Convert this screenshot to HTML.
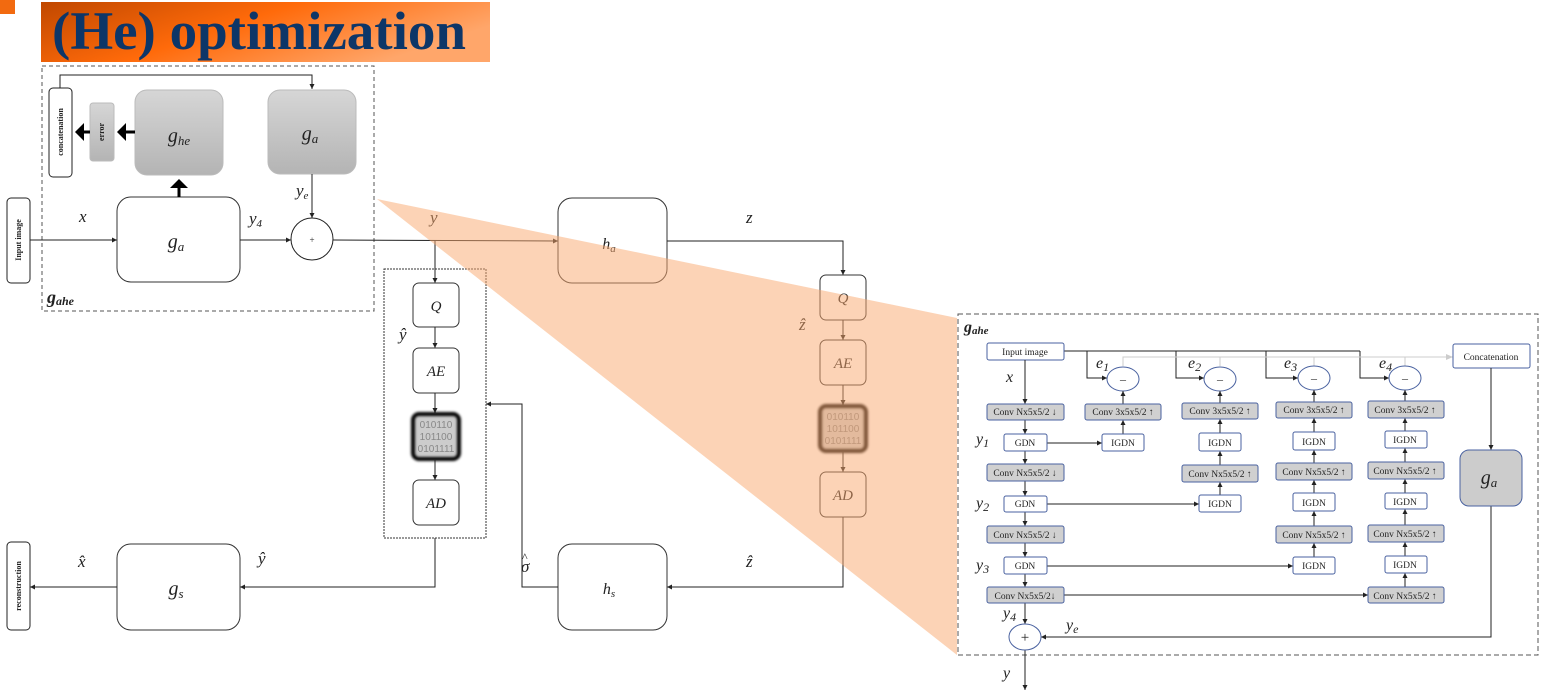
<!DOCTYPE html>
<html><head><meta charset="utf-8"><style>
html,body{margin:0;padding:0;background:#fff;width:1548px;height:697px;overflow:hidden}
svg{display:block}
.m{font-family:"Liberation Serif",serif;font-style:italic;fill:#222}
.s{font-family:"Liberation Serif",serif;fill:#222}
.bt{font-family:"Liberation Serif",serif;font-size:9.5px;fill:#222;text-anchor:middle}
</style></head><body>
<svg width="1548" height="697" viewBox="0 0 1548 697" xmlns="http://www.w3.org/2000/svg">
<defs>
<marker id="b" markerWidth="6" markerHeight="6" refX="5" refY="3" orient="auto" markerUnits="userSpaceOnUse"><path d="M0,0.5 L5,3 L0,5.5 z" fill="#222"/></marker>
<marker id="g" markerWidth="8" markerHeight="8" refX="7" refY="4" orient="auto" markerUnits="userSpaceOnUse"><path d="M0,1 L7,4 L0,7 z" fill="#ccc"/></marker>
<marker id="t" markerWidth="6" markerHeight="6" refX="2" refY="3" orient="auto" markerUnits="strokeWidth"><path d="M0,0 L3,3 L0,6 z" fill="#000"/></marker>
<linearGradient id="ban" x1="0" x2="1" y1="0" y2="0.4"><stop offset="0" stop-color="#c04800"/><stop offset="0.5" stop-color="#ff6a0a"/><stop offset="1" stop-color="#ffa66a"/></linearGradient>
<linearGradient id="gr" x1="0" x2="0" y1="0" y2="1"><stop offset="0" stop-color="#d6d6d6"/><stop offset="1" stop-color="#b4b4b4"/></linearGradient>
</defs>
<rect x="0" y="0" width="15" height="14" fill="#f26a10"/>
<rect x="41" y="2" width="449" height="60" fill="url(#ban)"/>
<text x="52" y="49" font-family="Liberation Serif,serif" font-weight="bold" font-size="54" fill="#0d3668" textLength="414" lengthAdjust="spacingAndGlyphs">(He) optimization</text>

<rect x="42" y="66" width="332" height="245" fill="none" stroke="#555" stroke-dasharray="4,3"/>
<rect x="49" y="88" width="23" height="89" rx="4" fill="#fff" stroke="#222"/>
<text transform="translate(63,132) rotate(-90)" class="s" font-size="8" font-weight="bold" text-anchor="middle">concatenation</text>
<rect x="90" y="103" width="24" height="58" rx="3" fill="url(#gr)" stroke="#bbb"/>
<text transform="translate(104,132) rotate(-90)" class="s" font-size="8" font-weight="bold" text-anchor="middle">error</text>
<rect x="135" y="90" width="88" height="85" rx="12" fill="url(#gr)" stroke="#bbb"/>
<text x="179" y="142" class="m" font-size="20" text-anchor="middle">g<tspan font-size="13" dy="3">he</tspan></text>
<rect x="268" y="90" width="88" height="84" rx="12" fill="url(#gr)" stroke="#bbb"/>
<text x="310" y="140" class="m" font-size="20" text-anchor="middle">g<tspan font-size="13" dy="3">a</tspan></text>
<polyline points="60,88 60,75 312,75 312,89" fill="none" stroke="#222" marker-end="url(#b)"/>
<line x1="135" y1="132" x2="120" y2="132" stroke="#000" stroke-width="3" marker-end="url(#t)"/>
<line x1="90" y1="132" x2="78" y2="132" stroke="#000" stroke-width="3" marker-end="url(#t)"/>
<rect x="117" y="197" width="123" height="85" rx="14" fill="#fff" stroke="#333"/>
<text x="176" y="248" class="m" font-size="20" text-anchor="middle">g<tspan font-size="13" dy="3">a</tspan></text>
<line x1="179" y1="197" x2="179" y2="182" stroke="#000" stroke-width="3" marker-end="url(#t)"/>
<rect x="7" y="198" width="23" height="85" rx="4" fill="#fff" stroke="#222"/>
<text transform="translate(21,240) rotate(-90)" class="s" font-size="8" font-weight="bold" text-anchor="middle">Input image</text>
<line x1="30" y1="240" x2="117" y2="240" stroke="#222" marker-end="url(#b)"/>
<text x="79" y="222" class="m" font-size="17">x</text>
<circle cx="312" cy="239" r="21" fill="#fff" stroke="#222"/>
<text x="312" y="243" class="s" font-size="9" text-anchor="middle">+</text>
<line x1="312" y1="174" x2="312" y2="218" stroke="#222" marker-end="url(#b)"/>
<text x="296" y="196" class="m" font-size="17">y<tspan font-size="11" dy="3">e</tspan></text>
<line x1="240" y1="240" x2="291" y2="240" stroke="#222" marker-end="url(#b)"/>
<text x="249" y="224" class="m" font-size="17">y<tspan font-size="11" dy="3">4</tspan></text>
<text x="47" y="303" class="m" font-size="18" font-weight="bold">g<tspan font-size="12" dy="2">ahe</tspan></text>

<line x1="333" y1="240" x2="558" y2="241" stroke="#222" marker-end="url(#b)"/>
<text x="430" y="223" class="m" font-size="17">y</text>
<line x1="435" y1="240" x2="435" y2="283" stroke="#222" marker-end="url(#b)"/>
<rect x="384" y="269" width="102" height="269" fill="none" stroke="#333" stroke-dasharray="2,1"/>
<rect x="413" y="283" width="46" height="44" rx="6" fill="#fff" stroke="#333"/>
<text x="436" y="311" class="m" font-size="15" text-anchor="middle">Q</text>
<text x="399" y="340" class="m" font-size="17">ŷ</text>
<line x1="435" y1="327" x2="435" y2="348" stroke="#222" marker-end="url(#b)"/>
<rect x="413" y="348" width="46" height="45" rx="6" fill="#fff" stroke="#333"/>
<text x="436" y="376" class="m" font-size="15" text-anchor="middle">AE</text>
<line x1="435" y1="393" x2="435" y2="413" stroke="#222" marker-end="url(#b)"/>
<rect x="413" y="414" width="46" height="45" rx="6" fill="#ccc" stroke="#000" stroke-width="4" style="filter:blur(1.2px)"/>
<text x="436" y="428" font-family="Liberation Sans,sans-serif" font-size="10" fill="#888" text-anchor="middle">010110</text>
<text x="436" y="440" font-family="Liberation Sans,sans-serif" font-size="10" fill="#888" text-anchor="middle">101100</text>
<text x="436" y="452" font-family="Liberation Sans,sans-serif" font-size="10" fill="#888" text-anchor="middle">0101111</text>
<line x1="435" y1="460" x2="435" y2="480" stroke="#222" marker-end="url(#b)"/>
<rect x="413" y="480" width="46" height="45" rx="6" fill="#fff" stroke="#333"/>
<text x="436" y="508" class="m" font-size="15" text-anchor="middle">AD</text>

<rect x="558" y="198" width="109" height="85" rx="14" fill="#fff" stroke="#333"/>
<text x="609" y="249" class="m" font-size="16" text-anchor="middle">h<tspan font-size="11" dy="3">a</tspan></text>
<polyline points="667,241 843,241 843,275" fill="none" stroke="#222" marker-end="url(#b)"/>
<text x="746" y="223" class="m" font-size="17">z</text>
<rect x="820" y="275" width="46" height="45" rx="6" fill="#fff" stroke="#333"/>
<text x="843" y="303" class="m" font-size="15" text-anchor="middle">Q</text>
<text x="799" y="330" class="m" font-size="17">ẑ</text>
<line x1="843" y1="320" x2="843" y2="340" stroke="#222" marker-end="url(#b)"/>
<rect x="820" y="340" width="46" height="45" rx="6" fill="#fff" stroke="#333"/>
<text x="843" y="368" class="m" font-size="15" text-anchor="middle">AE</text>
<line x1="843" y1="385" x2="843" y2="405" stroke="#222" marker-end="url(#b)"/>
<rect x="820" y="406" width="46" height="45" rx="6" fill="#ccc" stroke="#000" stroke-width="4" style="filter:blur(1.2px)"/>
<text x="843" y="420" font-family="Liberation Sans,sans-serif" font-size="10" fill="#888" text-anchor="middle">010110</text>
<text x="843" y="432" font-family="Liberation Sans,sans-serif" font-size="10" fill="#888" text-anchor="middle">101100</text>
<text x="843" y="444" font-family="Liberation Sans,sans-serif" font-size="10" fill="#888" text-anchor="middle">0101111</text>
<line x1="843" y1="452" x2="843" y2="472" stroke="#222" marker-end="url(#b)"/>
<rect x="820" y="472" width="46" height="45" rx="6" fill="#fff" stroke="#333"/>
<text x="843" y="500" class="m" font-size="15" text-anchor="middle">AD</text>
<polyline points="843,517 843,587 667,587" fill="none" stroke="#222" marker-end="url(#b)"/>
<text x="746" y="567" class="m" font-size="17">ẑ</text>

<rect x="558" y="544" width="109" height="86" rx="14" fill="#fff" stroke="#333"/>
<text x="609" y="594" class="m" font-size="16" text-anchor="middle">h<tspan font-size="11" dy="3">s</tspan></text>
<polyline points="558,587 522,587 522,404 486,404" fill="none" stroke="#222" marker-end="url(#b)"/>
<text x="521" y="572" class="m" font-size="17">σ</text>
<text x="522" y="561" class="s" font-size="12">^</text>
<polyline points="435,538 435,587 240,587" fill="none" stroke="#222" marker-end="url(#b)"/>
<text x="258" y="564" class="m" font-size="17">ŷ</text>
<rect x="117" y="544" width="123" height="86" rx="14" fill="#fff" stroke="#333"/>
<text x="176" y="595" class="m" font-size="20" text-anchor="middle">g<tspan font-size="13" dy="3">s</tspan></text>
<line x1="117" y1="587" x2="30" y2="587" stroke="#222" marker-end="url(#b)"/>
<text x="78" y="567" class="m" font-size="17">x̂</text>
<rect x="7" y="542" width="23" height="88" rx="4" fill="#fff" stroke="#222"/>
<text transform="translate(21,586) rotate(-90)" class="s" font-size="8" font-weight="bold" text-anchor="middle">reconstruction</text>

<polygon points="377,199 957,318 957,655" fill="#f9a86e" opacity="0.5"/>

<!-- right panel -->
<rect x="958" y="314" width="580" height="341" fill="#fff" stroke="#555" stroke-dasharray="5,3"/>
<text x="964" y="332" class="m" font-size="16" font-weight="bold">g<tspan font-size="11" dy="2">ahe</tspan></text>
<g stroke="#222" fill="none">
<polyline points="1064,351 1360,351"/>
<polyline points="1087,351 1087,378 1107,378" marker-end="url(#b)"/>
<polyline points="1176,351 1176,378 1204,378" marker-end="url(#b)"/>
<polyline points="1266,351 1266,378 1298,378" marker-end="url(#b)"/>
<polyline points="1360,351 1360,378 1389,378" marker-end="url(#b)"/>
</g>
<polyline points="1123,366 1123,357 1453,357" fill="none" stroke="#ccc" marker-end="url(#g)"/>
<g stroke="#ccc"><line x1="1220" y1="357" x2="1220" y2="366"/><line x1="1314" y1="357" x2="1314" y2="366"/><line x1="1405" y1="357" x2="1405" y2="366"/></g>
<rect x="987" y="343" width="77" height="17" rx="2" fill="#fff" stroke="#4a62a0"/>
<text x="1025" y="355" class="bt">Input image</text>
<rect x="1453" y="344" width="77" height="24" rx="2" fill="#fff" stroke="#4a62a0"/>
<text x="1491" y="360" class="bt">Concatenation</text>
<g class="m" font-size="16">
<text x="1096" y="368">e<tspan font-size="12" dy="3">1</tspan></text>
<text x="1188" y="368">e<tspan font-size="12" dy="3">2</tspan></text>
<text x="1284" y="368">e<tspan font-size="12" dy="3">3</tspan></text>
<text x="1379" y="368">e<tspan font-size="12" dy="3">4</tspan></text>
<text x="1006" y="382">x</text>
<text x="976" y="444">y<tspan font-size="12" dy="3">1</tspan></text>
<text x="976" y="508">y<tspan font-size="12" dy="3">2</tspan></text>
<text x="976" y="570">y<tspan font-size="12" dy="3">3</tspan></text>
<text x="1003" y="618">y<tspan font-size="12" dy="3">4</tspan></text>
<text x="1066" y="630">y<tspan font-size="12" dy="3">e</tspan></text>
<text x="1003" y="678">y</text>
</g>
<g fill="#fff" stroke="#4a62a0">
<ellipse cx="1123" cy="379" rx="16" ry="12"/><ellipse cx="1220" cy="379" rx="16" ry="12"/><ellipse cx="1314" cy="378" rx="16" ry="12"/><ellipse cx="1405" cy="378" rx="16" ry="12"/>
</g>
<g class="s" font-size="12" text-anchor="middle"><text x="1123" y="383">–</text><text x="1220" y="383">–</text><text x="1314" y="382">–</text><text x="1405" y="382">–</text></g>
<g stroke="#222" fill="none">
<line x1="1025" y1="360" x2="1025" y2="404" marker-end="url(#b)"/>
<line x1="1025" y1="420" x2="1025" y2="434" marker-end="url(#b)"/>
<line x1="1025" y1="451" x2="1025" y2="464" marker-end="url(#b)"/>
<line x1="1025" y1="481" x2="1025" y2="496" marker-end="url(#b)"/>
<line x1="1025" y1="512" x2="1025" y2="526" marker-end="url(#b)"/>
<line x1="1025" y1="543" x2="1025" y2="557" marker-end="url(#b)"/>
<line x1="1025" y1="574" x2="1025" y2="587" marker-end="url(#b)"/>
<line x1="1025" y1="603" x2="1025" y2="624" marker-end="url(#b)"/>
<line x1="1025" y1="650" x2="1025" y2="690" marker-end="url(#b)"/>
<line x1="1047" y1="443" x2="1102" y2="443" marker-end="url(#b)"/>
<line x1="1047" y1="504" x2="1199" y2="504" marker-end="url(#b)"/>
<line x1="1047" y1="566" x2="1293" y2="566" marker-end="url(#b)"/>
<line x1="1064" y1="595" x2="1368" y2="595" marker-end="url(#b)"/>
<polyline points="1491,368 1491,450" marker-end="url(#b)"/>
<polyline points="1491,506 1491,637 1041,637" marker-end="url(#b)"/>
<line x1="1123" y1="434" x2="1123" y2="420" marker-end="url(#b)"/>
<line x1="1123" y1="404" x2="1123" y2="391" marker-end="url(#b)"/>
<line x1="1220" y1="495" x2="1220" y2="482" marker-end="url(#b)"/>
<line x1="1220" y1="465" x2="1220" y2="451" marker-end="url(#b)"/>
<line x1="1220" y1="433" x2="1220" y2="419" marker-end="url(#b)"/>
<line x1="1220" y1="403" x2="1220" y2="391" marker-end="url(#b)"/>
<line x1="1314" y1="557" x2="1314" y2="543" marker-end="url(#b)"/>
<line x1="1314" y1="526" x2="1314" y2="511" marker-end="url(#b)"/>
<line x1="1314" y1="493" x2="1314" y2="480" marker-end="url(#b)"/>
<line x1="1314" y1="463" x2="1314" y2="450" marker-end="url(#b)"/>
<line x1="1314" y1="432" x2="1314" y2="418" marker-end="url(#b)"/>
<line x1="1314" y1="402" x2="1314" y2="390" marker-end="url(#b)"/>
<line x1="1405" y1="587" x2="1405" y2="573" marker-end="url(#b)"/>
<line x1="1405" y1="556" x2="1405" y2="542" marker-end="url(#b)"/>
<line x1="1405" y1="525" x2="1405" y2="509" marker-end="url(#b)"/>
<line x1="1405" y1="493" x2="1405" y2="479" marker-end="url(#b)"/>
<line x1="1405" y1="462" x2="1405" y2="448" marker-end="url(#b)"/>
<line x1="1405" y1="431" x2="1405" y2="418" marker-end="url(#b)"/>
<line x1="1405" y1="401" x2="1405" y2="390" marker-end="url(#b)"/>
</g>
<ellipse cx="1025" cy="637" rx="16" ry="13" fill="#fff" stroke="#4a62a0"/>
<text x="1025" y="642" class="s" font-size="15" text-anchor="middle">+</text>
<rect x="1460" y="450" width="62" height="56" rx="9" fill="#ccc" stroke="#4a62a0"/>
<text x="1489" y="484" class="m" font-size="20" text-anchor="middle">g<tspan font-size="13" dy="3">a</tspan></text>
<g fill="#d0d0d0" stroke="#4a62a0">
<rect x="987" y="404" width="77" height="16" rx="2"/><rect x="987" y="464" width="77" height="17" rx="2"/><rect x="987" y="526" width="77" height="17" rx="2"/><rect x="987" y="587" width="77" height="16" rx="2"/>
<rect x="1085" y="404" width="76" height="16" rx="2"/>
<rect x="1182" y="403" width="76" height="16" rx="2"/><rect x="1182" y="465" width="76" height="17" rx="2"/>
<rect x="1276" y="402" width="76" height="16" rx="2"/><rect x="1276" y="463" width="76" height="17" rx="2"/><rect x="1276" y="526" width="76" height="17" rx="2"/>
<rect x="1368" y="401" width="76" height="17" rx="2"/><rect x="1368" y="462" width="76" height="17" rx="2"/><rect x="1368" y="525" width="76" height="17" rx="2"/><rect x="1368" y="587" width="76" height="16" rx="2"/>
</g>
<g fill="#fff" stroke="#4a62a0">
<rect x="1004" y="434" width="43" height="17" rx="2"/><rect x="1004" y="496" width="43" height="16" rx="2"/><rect x="1004" y="557" width="43" height="17" rx="2"/>
<rect x="1102" y="434" width="42" height="17" rx="2"/>
<rect x="1199" y="433" width="42" height="18" rx="2"/><rect x="1199" y="495" width="42" height="17" rx="2"/>
<rect x="1293" y="432" width="42" height="18" rx="2"/><rect x="1293" y="493" width="42" height="18" rx="2"/><rect x="1293" y="557" width="42" height="17" rx="2"/>
<rect x="1385" y="431" width="42" height="17" rx="2"/><rect x="1385" y="493" width="42" height="16" rx="2"/><rect x="1385" y="556" width="42" height="17" rx="2"/>
</g>
<g class="bt">
<text x="1025" y="415">Conv Nx5x5/2 ↓</text><text x="1025" y="476">Conv Nx5x5/2 ↓</text><text x="1025" y="538">Conv Nx5x5/2 ↓</text><text x="1025" y="599">Conv Nx5x5/2↓</text>
<text x="1123" y="415">Conv 3x5x5/2 ↑</text>
<text x="1220" y="414">Conv 3x5x5/2 ↑</text><text x="1220" y="477">Conv Nx5x5/2 ↑</text>
<text x="1314" y="413">Conv 3x5x5/2 ↑</text><text x="1314" y="475">Conv Nx5x5/2 ↑</text><text x="1314" y="538">Conv Nx5x5/2 ↑</text>
<text x="1405" y="413">Conv 3x5x5/2 ↑</text><text x="1405" y="474">Conv Nx5x5/2 ↑</text><text x="1405" y="537">Conv Nx5x5/2 ↑</text><text x="1405" y="599">Conv Nx5x5/2 ↑</text>
<text x="1025" y="446">GDN</text><text x="1025" y="507">GDN</text><text x="1025" y="569">GDN</text>
<text x="1123" y="446">IGDN</text>
<text x="1220" y="446">IGDN</text><text x="1220" y="507">IGDN</text>
<text x="1314" y="445">IGDN</text><text x="1314" y="506">IGDN</text><text x="1314" y="569">IGDN</text>
<text x="1405" y="443">IGDN</text><text x="1405" y="505">IGDN</text><text x="1405" y="568">IGDN</text>
</g>
</svg>
</body></html>
